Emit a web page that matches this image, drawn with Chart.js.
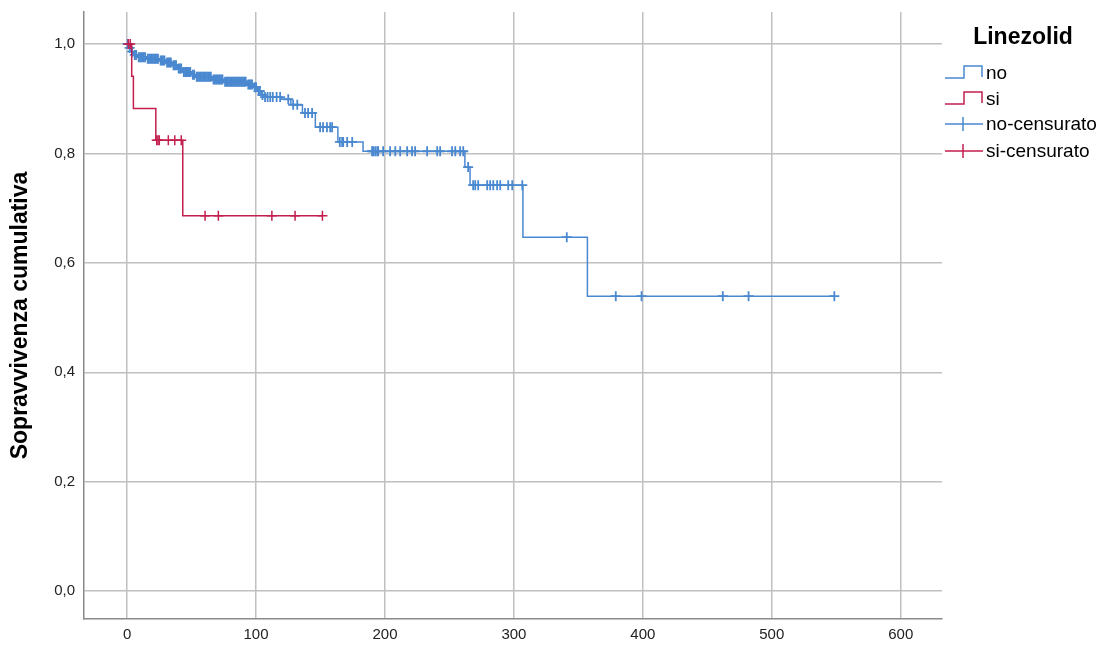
<!DOCTYPE html>
<html>
<head>
<meta charset="utf-8">
<script src="https://cdn.jsdelivr.net/npm/chart.js@4/dist/chart.umd.min.js"></script>
<style>
html,body{margin:0;padding:0;background:#fff;}
#wrap{width:1102px;height:648px;position:relative;}
</style>
</head>
<body>
<div id="wrap"><canvas id="c"></canvas></div>
<script>
// ---- data ----
const xTicks = [0, 100, 200, 300, 400, 500, 600];
const yTicks = [0, 0.2, 0.4, 0.6, 0.8, 1.0];

// "no" group: step times and survival after each step
const noTimes = [0, 1.5, 3, 5, 8, 15, 25, 30, 35, 39, 43, 50, 53, 66, 75, 93, 98, 101, 104, 106, 120, 127, 136, 146, 163.5, 183, 262, 266, 307, 357];
const noSurv  = [1.0, 0.993, 0.986, 0.980, 0.976, 0.973, 0.970, 0.966, 0.961, 0.955, 0.949, 0.944, 0.940, 0.935, 0.931, 0.926, 0.921, 0.914, 0.907, 0.903, 0.899, 0.889, 0.874, 0.848, 0.821, 0.804, 0.775, 0.742, 0.647, 0.539];
const noCensored = [0.5, 2, 4, 6, 7, 9, 10, 11, 12, 13, 14, 16, 17, 18, 19, 20, 21, 22, 23, 24, 26, 27, 28, 29, 31, 32, 33, 34, 36, 37, 38, 40, 41, 42, 44, 45, 46, 47, 48, 49, 51, 52, 54, 55, 56, 57, 58, 59, 60, 61, 62, 63, 64, 65, 67, 68, 69, 70, 71, 72, 73, 74, 76, 77, 78, 79, 80, 81, 82, 83, 84, 85, 86, 87, 88, 89, 90, 91, 92, 94, 95, 96, 97, 99, 100, 102, 103, 105, 107, 109, 111, 113, 116, 118.7, 125, 128.8, 132, 138, 140.4, 143.5, 149.7, 152, 155, 157.5, 159, 165, 166.8, 167.6, 170.7, 174.6, 190, 190.8, 192.4, 194, 194.7, 198.6, 204, 208, 211.8, 217.2, 221, 223.4, 232.7, 240.5, 242.8, 252, 254.5, 258.3, 260.7, 264.5, 268.4, 270, 272.3, 279.3, 281.6, 284, 287, 289.4, 295.6, 298.7, 306.5, 341, 379, 399, 462, 482, 548.5];

// "si" group
const siTimes = [0, 3.6, 4.9, 22.3, 43.2];
const siSurv  = [1.0, 0.941, 0.882, 0.824, 0.686];
const siCensored = [1, 2.5, 23, 24, 25, 32, 37, 42, 60.5, 70.8, 112.3, 130.3, 151.5];

const legendTitle = 'Linezolid';
const legendLabels = ['no', 'si', 'no-censurato', 'si-censurato'];
const yTitle = 'Sopravvivenza cumulativa';

// ---- helpers ----
const BLUE = '#4a88d0';
const RED = '#c21f4e';
const FONT = '"Liberation Sans", Arial, sans-serif';

function survAt(times, surv, t) {
  let s = surv[0];
  for (let i = 0; i < times.length; i++) { if (times[i] <= t) s = surv[i]; }
  return s;
}
function stepLine(times, surv, censored) {
  const pts = times.map((t, i) => ({x: t, y: surv[i]}));
  const last = Math.max(...censored);
  if (last > times[times.length - 1]) pts.push({x: last, y: surv[surv.length - 1]});
  return pts;
}
function censorPts(times, surv, censored) {
  return censored.map(t => ({x: t, y: survAt(times, surv, t)}));
}
const fmt = v => v.toFixed(1).replace('.', ',');

// custom legend drawn in the right margin
const kmLegend = {
  id: 'kmLegend',
  afterDraw(chart) {
    const ctx = chart.ctx;
    ctx.save();
    ctx.fillStyle = '#000';
    ctx.font = 'bold 23px ' + FONT;
    ctx.textAlign = 'center';
    ctx.textBaseline = 'middle';
    ctx.fillText(legendTitle, 1023, 38);
    const rows = [73, 99, 124, 151];
    const colors = [BLUE, RED, BLUE, RED];
    ctx.font = '19px ' + FONT;
    ctx.textAlign = 'left';
    rows.forEach((y, i) => {
      ctx.strokeStyle = colors[i];
      ctx.lineWidth = 1.5;
      ctx.beginPath();
      if (i < 2) {
        ctx.moveTo(945, y + 5);
        ctx.lineTo(964, y + 5);
        ctx.lineTo(964, y - 7);
        ctx.lineTo(982, y - 7);
        ctx.lineTo(982, y + 4);
      } else {
        ctx.moveTo(945, y);
        ctx.lineTo(983, y);
        ctx.moveTo(963, y - 7);
        ctx.lineTo(963, y + 7);
      }
      ctx.stroke();
      ctx.fillStyle = '#000';
      ctx.fillText(legendLabels[i], 986, y + 1);
    });
    ctx.restore();
  }
};

new Chart(document.getElementById('c'), {
  type: 'scatter',
  data: {
    datasets: [
      {label: legendLabels[3], data: censorPts(siTimes, siSurv, siCensored), showLine: false,
       pointStyle: 'cross', pointRadius: 5, borderColor: RED, borderWidth: 1.5, order: 0},
      {label: legendLabels[1], data: stepLine(siTimes, siSurv, siCensored), showLine: true, stepped: true,
       pointRadius: 0, borderColor: RED, borderWidth: 1.5, order: 1},
      {label: legendLabels[2], data: censorPts(noTimes, noSurv, noCensored), showLine: false,
       pointStyle: 'cross', pointRadius: 5, borderColor: BLUE, borderWidth: 1.8, order: 2},
      {label: legendLabels[0], data: stepLine(noTimes, noSurv, noCensored), showLine: true, stepped: true,
       pointRadius: 0, borderColor: BLUE, borderWidth: 1.5, order: 3}
    ]
  },
  options: {
    responsive: true,
    maintainAspectRatio: false,
    animation: false,
    layout: {padding: {top: 12, right: 160, left: 0, bottom: 0}},
    plugins: {legend: {display: false}, tooltip: {enabled: false}},
    scales: {
      x: {
        type: 'linear', min: -33.4, max: 632,
        afterBuildTicks: s => { s.ticks = xTicks.map(v => ({value: v})); },
        afterFit: s => { s.height = 29; s.paddingLeft = 0; s.paddingRight = 0; },
        grid: {color: '#c0c0c0', lineWidth: 1.5, drawTicks: false},
        border: {color: '#8a8a8a', width: 1.5},
        ticks: {color: '#222', font: {family: FONT, size: 15}, padding: 7}
      },
      y: {
        type: 'linear', min: -0.051, max: 1.0585,
        afterBuildTicks: s => { s.ticks = yTicks.map(v => ({value: v})); },
        afterFit: s => { s.width = 84; s.paddingTop = 0; s.paddingBottom = 0; },
        grid: {color: '#c0c0c0', lineWidth: 1.5, drawTicks: false},
        border: {color: '#8a8a8a', width: 1.5},
        ticks: {color: '#222', font: {family: FONT, size: 15}, padding: 9,
                callback: v => fmt(v)},
        title: {display: true, text: yTitle, color: '#000',
                font: {family: FONT, size: 23, weight: 'bold'},
                padding: {top: 7, bottom: 0}}
      }
    }
  },
  plugins: [kmLegend]
});
</script>
</body>
</html>
